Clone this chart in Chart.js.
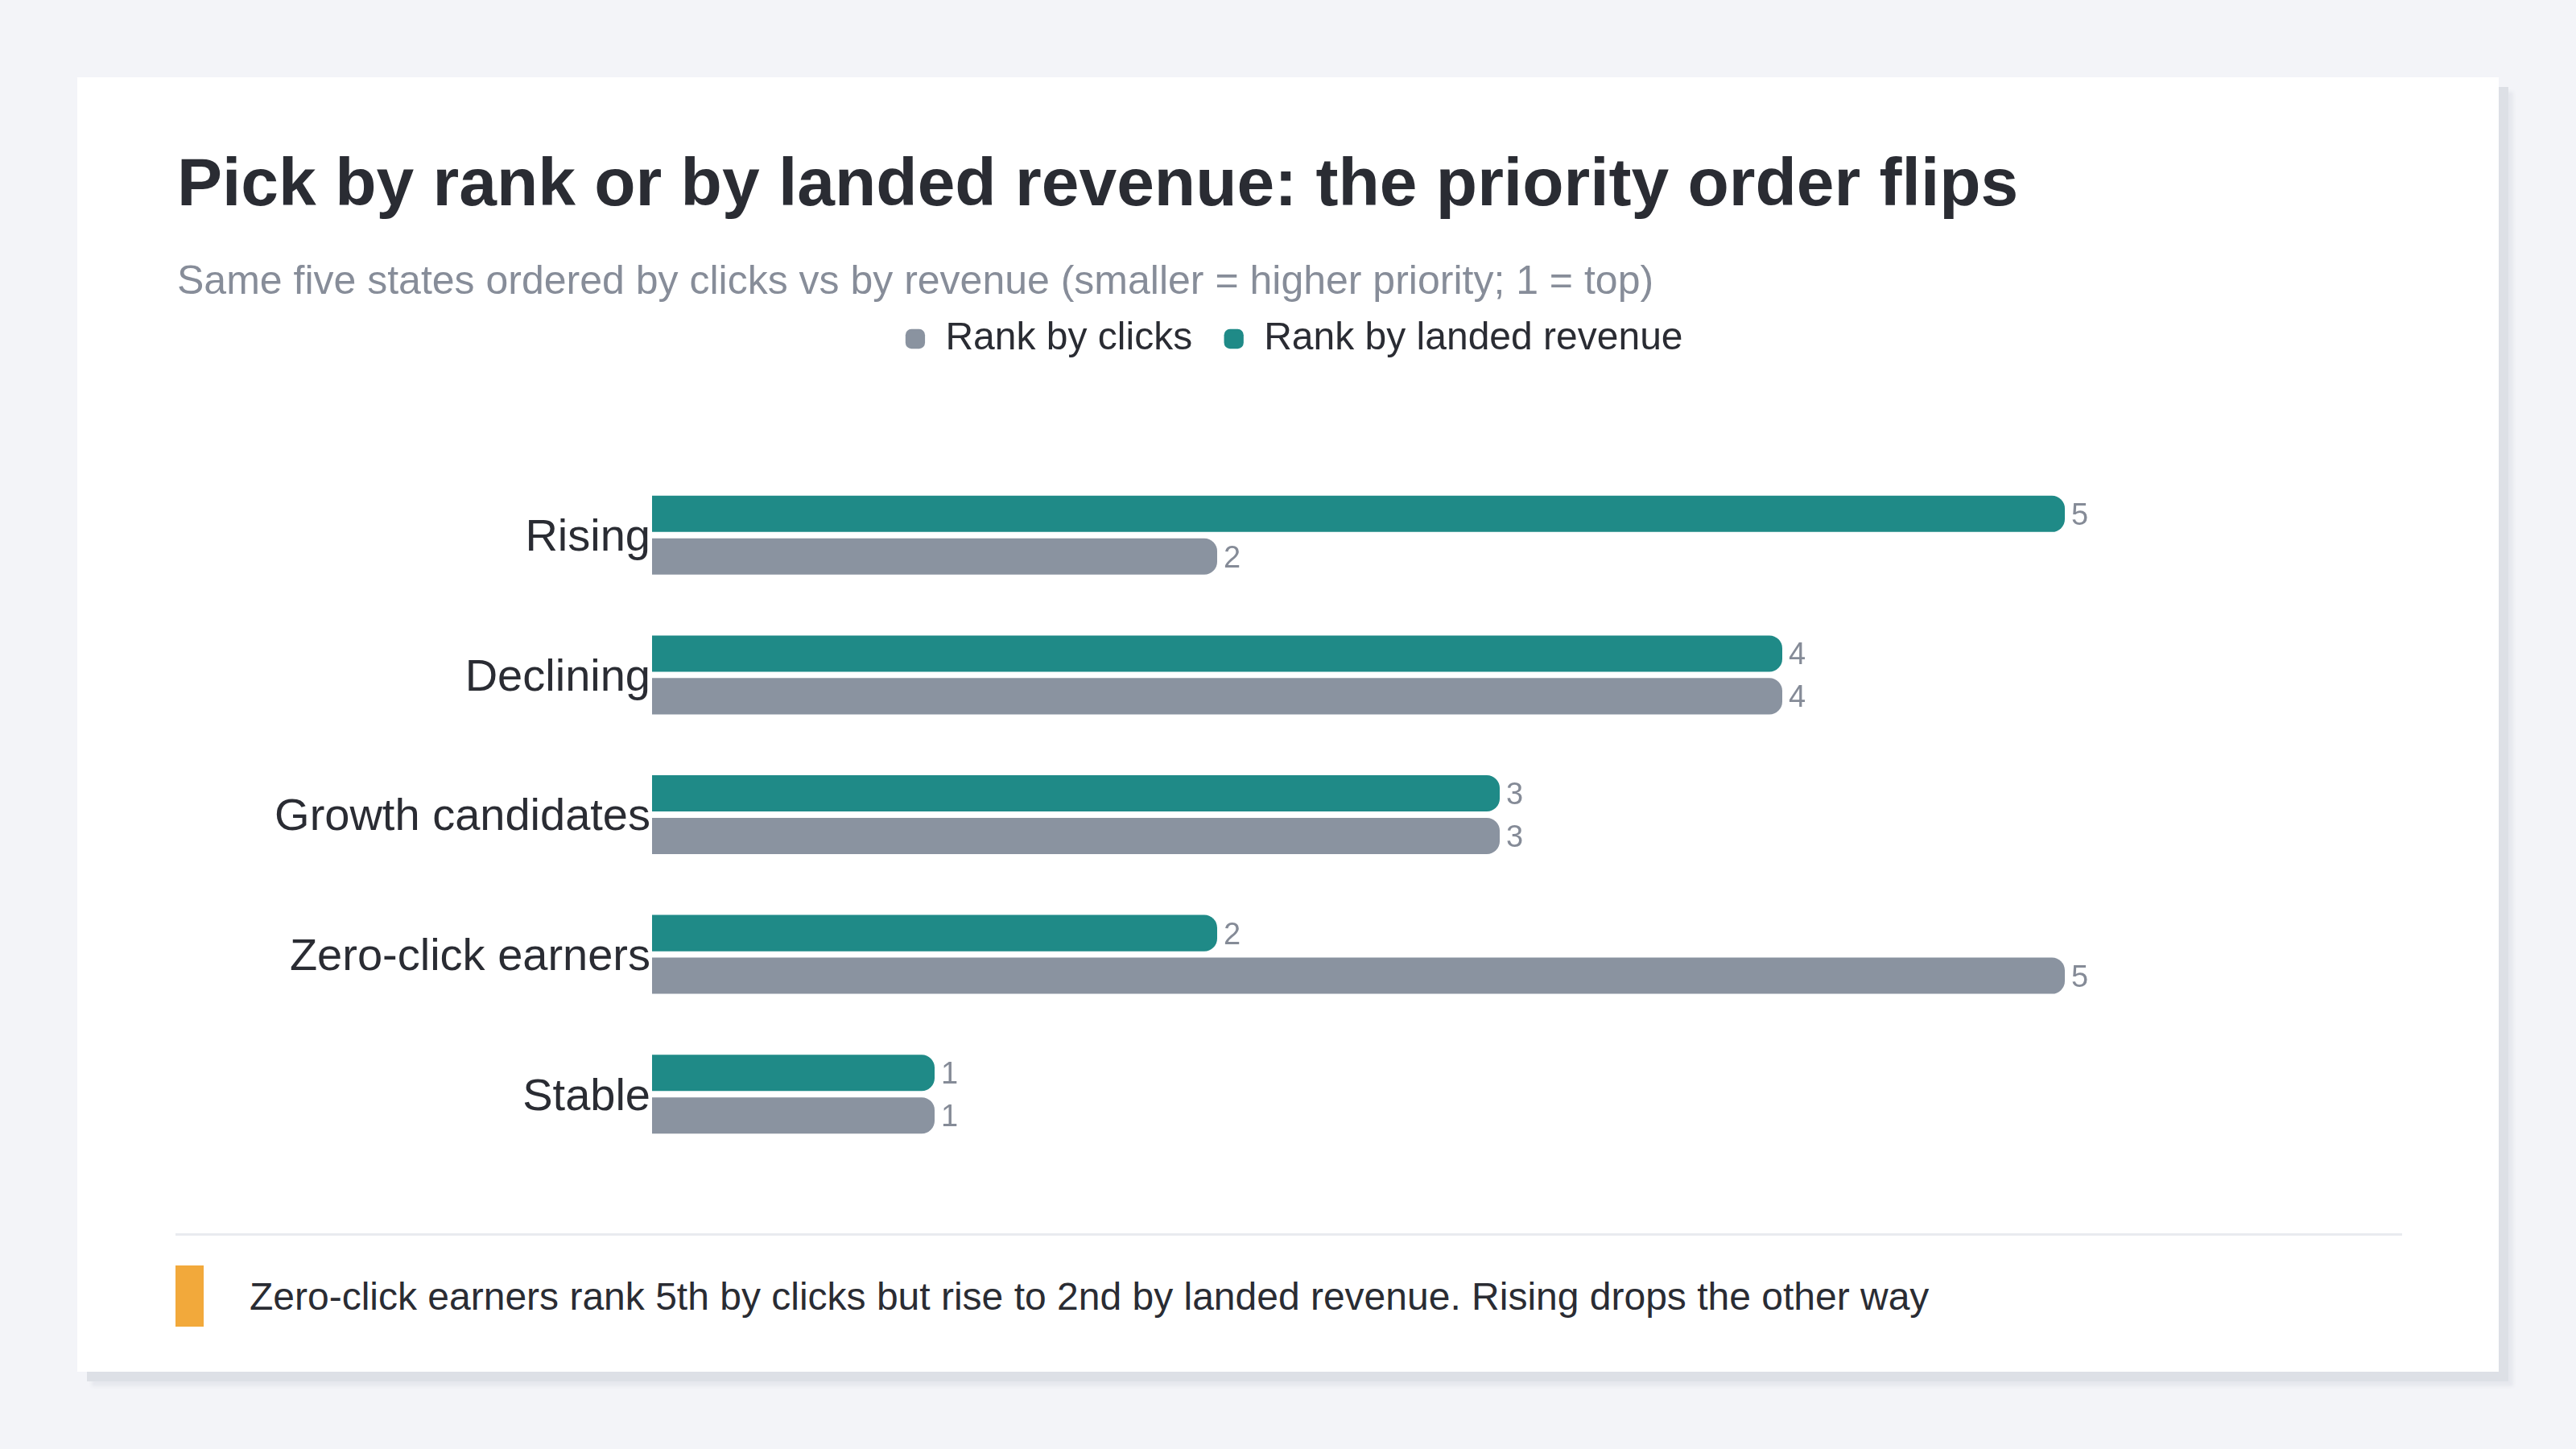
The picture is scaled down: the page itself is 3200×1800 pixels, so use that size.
<!DOCTYPE html>
<html>
<head>
<meta charset="utf-8">
<title>Pick by rank or by landed revenue</title>
<script src="https://cdn.jsdelivr.net/npm/chart.js@4.4.1/dist/chart.umd.min.js"></script>
<style>
  html, body { margin: 0; padding: 0; }
  body {
    width: 3200px; height: 1800px;
    background: #f3f4f8;
    font-family: "Liberation Sans", Arial, Helvetica, sans-serif;
    position: relative;
  }
  .card {
    position: absolute; left: 96px; top: 96px;
    width: 3008px; height: 1608px;
    background: #fff;
    box-shadow: 12px 12px 0 #dde0e6, 18px 18px 4px rgba(214, 218, 226, 0.45);
  }
  .title {
    position: absolute; left: 124px; top: 80px; margin: 0;
    font-size: 84px; font-weight: bold; line-height: 1.2;
    color: #2a2c33; white-space: nowrap;
  }
  .subtitle {
    position: absolute; left: 124px; top: 222px; margin: 0;
    font-size: 50px; line-height: 1.2; color: #878d99; white-space: nowrap;
  }
  .chartbox {
    position: absolute; left: 124px; top: 263px;
    width: 2764px; height: 1087px;
  }
  .divider {
    position: absolute; left: 122px; top: 1436px;
    width: 2766px; height: 3px; background: #e9ebef;
  }
  .accent {
    position: absolute; left: 122px; top: 1476px;
    width: 35px; height: 76px; background: #f2a93b;
  }
  .note {
    position: absolute; left: 214px; top: 1486px; margin: 0;
    font-size: 48px; line-height: 1.2; color: #2a2c33; white-space: nowrap;
  }
</style>
</head>
<body>
<div class="card">
  <h1 class="title">Pick by rank or by landed revenue: the priority order flips</h1>
  <p class="subtitle">Same five states ordered by clicks vs by revenue (smaller = higher priority; 1 = top)</p>
  <div class="chartbox"><canvas id="rankChart"></canvas></div>
  <div class="divider"></div>
  <div class="accent"></div>
  <p class="note">Zero-click earners rank 5th by clicks but rise to 2nd by landed revenue. Rising drops the other way</p>
</div>

<script>
// dati del grafico
const states = ['Rising', 'Declining', 'Growth candidates', 'Zero-click earners', 'Stable'];
const rankByRevenue = [5, 4, 3, 2, 1];
const rankByClicks = [2, 4, 3, 5, 1];

const tealColor = '#1f8a87';
const grayColor = '#8a93a0';
const fontFamily = '"Liberation Sans", Arial, sans-serif';

// spazio extra sotto la legenda
const legendGap = {
  id: 'legendGap',
  beforeInit(chart) {
    const origFit = chart.legend.fit;
    chart.legend.fit = function() {
      origFit.call(this);
      this.height += 123;
    };
  }
};

// etichette con il valore alla fine di ogni barra
const valueLabels = {
  id: 'valueLabels',
  afterDatasetsDraw(chart) {
    const ctx = chart.ctx;
    ctx.save();
    ctx.font = '38px ' + fontFamily;
    ctx.fillStyle = '#858b97';
    ctx.textAlign = 'left';
    ctx.textBaseline = 'middle';
    chart.data.datasets.forEach((ds, i) => {
      const meta = chart.getDatasetMeta(i);
      meta.data.forEach((bar, j) => {
        ctx.fillText(String(ds.data[j]), bar.x + 8, bar.y + 3);
      });
    });
    ctx.restore();
  }
};

document.addEventListener('DOMContentLoaded', function() {
  const ctx = document.getElementById('rankChart').getContext('2d');
  new Chart(ctx, {
    type: 'bar',
    data: {
      labels: states,
      datasets: [{
        label: 'Rank by landed revenue',
        data: rankByRevenue,
        backgroundColor: tealColor,
        borderRadius: 16,
        borderSkipped: 'start'
      }, {
        label: 'Rank by clicks',
        data: rankByClicks,
        backgroundColor: grayColor,
        borderRadius: 16,
        borderSkipped: 'start'
      }]
    },
    options: {
      indexAxis: 'y',
      responsive: true,
      maintainAspectRatio: false,
      animation: false,
      devicePixelRatio: 1,
      categoryPercentage: 0.61,
      barPercentage: 0.85,
      layout: {
        autoPadding: false,
        padding: { left: 78, right: 68, top: 0, bottom: 0 }
      },
      plugins: {
        legend: {
          position: 'top',
          reverse: true,
          labels: {
            usePointStyle: true,
            pointStyle: 'rectRounded',
            boxWidth: 27,
            boxHeight: 20,
            padding: 38,
            color: '#2a2c33',
            font: { size: 48, family: fontFamily }
          }
        },
        tooltip: { enabled: false }
      },
      scales: {
        x: { min: 0, max: 6, display: false },
        y: {
          grid: { display: false, drawTicks: false },
          border: { display: false },
          afterFit(scale) {
            // larghezza fissa dell'asse, senza margini sopra e sotto
            scale.width = 512;
            scale.paddingTop = 0;
            scale.paddingBottom = 0;
          },
          ticks: {
            padding: 2,
            labelOffset: 4,
            color: '#2a2c33',
            font: { size: 56, family: fontFamily }
          }
        }
      }
    },
    plugins: [legendGap, valueLabels]
  });
});
</script>
</body>
</html>
